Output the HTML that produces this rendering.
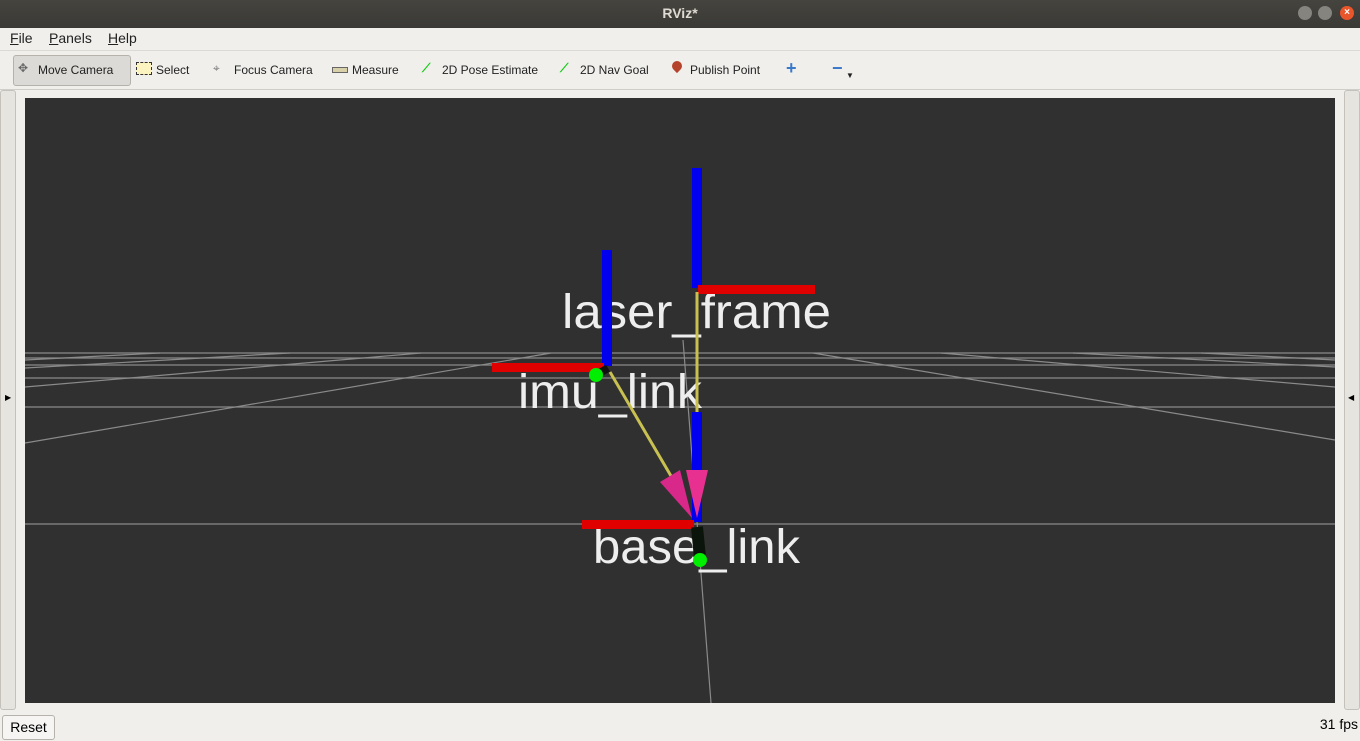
<!DOCTYPE html>
<html><head><meta charset="utf-8"><style>
body{margin:0;width:1360px;height:741px;overflow:hidden;background:#f0efec;font-family:"Liberation Sans",sans-serif;position:relative}
.t{position:absolute;left:0;top:0;width:1360px;height:28px;background:linear-gradient(#45443f,#3a3935);color:#dfdbd2;font-weight:bold;font-size:14px;text-align:center;line-height:27px}
.menu{position:absolute;top:28px;left:0;width:1360px;height:22px;font-size:14px;color:#222}
.menu span{position:absolute;top:2px}
.tb{position:absolute;top:50px;left:0;width:1360px;height:38px;border-top:1px solid #dcdad5;border-bottom:1px solid #d0cec8;font-size:12px;color:#222}
.tb span{position:absolute;top:12px}
.btn{position:absolute;left:13px;top:4px;width:116px;height:29px;background:#dcdad6;border:1px solid #b5b2ab;border-radius:3px}
.side{position:absolute;top:90px;width:14px;height:618px;background:#e6e4df;border:1px solid #c4c1bb;border-radius:3px}
</style></head><body>
<div class="t">RViz*
<div style="position:absolute;right:48px;top:6px;width:14px;height:14px;border-radius:7px;background:#85847f"></div>
<div style="position:absolute;right:28px;top:6px;width:14px;height:14px;border-radius:7px;background:#85847f"></div>
<div style="position:absolute;right:6px;top:6px;width:14px;height:14px;border-radius:7px;background:#e9562b;color:#fff;font-size:10px;line-height:14px">×</div>
</div>
<div class="menu"><span style="left:10px"><u>F</u>ile</span><span style="left:49px"><u>P</u>anels</span><span style="left:108px"><u>H</u>elp</span></div>
<div class="tb"><div class="btn"></div>
<span style="left:18px;top:10px;color:#666">✥</span><span style="left:38px">Move Camera</span>
<span style="left:136px;top:11px;width:14px;height:11px;background:#fbf3c0;border:1px dashed #333"></span><span style="left:156px">Select</span>
<span style="left:213px;top:10px;color:#777">⌖</span><span style="left:234px">Focus Camera</span>
<span style="left:332px;top:16px;width:14px;height:4px;background:#d8d0a8;border:1px solid #666"></span><span style="left:352px">Measure</span>
<span style="left:422px;top:10px;color:#1c1;font-weight:bold">⟋</span><span style="left:442px">2D Pose Estimate</span>
<span style="left:560px;top:10px;color:#1c1;font-weight:bold">⟋</span><span style="left:580px">2D Nav Goal</span>
<span style="left:672px;top:10px;width:10px;height:10px;border-radius:5px 5px 5px 0;transform:rotate(-45deg);background:#b5432c"></span><span style="left:690px">Publish Point</span>
<span style="left:786px;top:7px;color:#3a79c9;font-size:18px;font-weight:bold">+</span>
<span style="left:832px;top:7px;color:#3a79c9;font-size:18px;font-weight:bold">−</span><span style="left:846px;top:20px;font-size:8px">▼</span>
</div>
<div class="side" style="left:0"><div style="position:absolute;top:302px;left:4px;font-size:8px">▶</div></div>
<div class="side" style="left:1344px"><div style="position:absolute;top:302px;left:3px;font-size:8px">◀</div></div>
<svg style="position:absolute;left:25px;top:98px" width="1310" height="605" viewBox="25 98 1310 605">
<rect x="25" y="98" width="1310" height="605" fill="#303030"/>
<g stroke="#8a8a8a" stroke-width="1.2" fill="none">
<line x1="25" y1="353" x2="1335" y2="353"/><line x1="25" y1="358" x2="1335" y2="358"/>
<line x1="25" y1="365" x2="1335" y2="365"/><line x1="25" y1="378" x2="1335" y2="378"/>
<line x1="25" y1="407" x2="1335" y2="407"/><line x1="25" y1="524" x2="1335" y2="524"/>
<line x1="551" y1="353" x2="25" y2="443"/><line x1="421" y1="353" x2="25" y2="387"/>
<line x1="290" y1="353" x2="25" y2="368"/><line x1="160" y1="353" x2="25" y2="360"/>
<line x1="813" y1="353" x2="1335" y2="440"/><line x1="941" y1="353" x2="1335" y2="387"/>
<line x1="1073" y1="353" x2="1335" y2="367"/><line x1="1201" y1="353" x2="1335" y2="360"/>
<line x1="683" y1="340" x2="711" y2="703"/>
</g>
<g font-family="Liberation Sans,sans-serif" font-size="48" fill="#eeeeee">
<text x="562" y="328" textLength="269" lengthAdjust="spacingAndGlyphs">laser_frame</text>
<text x="518" y="408" textLength="184" lengthAdjust="spacingAndGlyphs">imu_link</text>
<text x="593" y="563" textLength="207" lengthAdjust="spacingAndGlyphs">base_link</text>
</g>
<rect x="602" y="250" width="10" height="116" fill="#0000ee"/>
<rect x="692" y="168" width="10" height="120" fill="#0000ee"/>
<rect x="692" y="412" width="10" height="110" fill="#0000ee"/>
<rect x="492" y="363" width="112" height="9" fill="#e00000"/>
<rect x="698" y="285" width="117" height="9" fill="#e00000"/>
<rect x="582" y="520" width="112" height="9" fill="#e00000"/>
<line x1="697" y1="292" x2="697" y2="412" stroke="#c8c050" stroke-width="3"/>
<line x1="610" y1="372" x2="671" y2="476" stroke="#c8c050" stroke-width="3"/>
<polygon points="660,482 680,470 692,518" fill="#d8288a"/>
<polygon points="686,470 708,470 697,518" fill="#e83090"/>
<line x1="608" y1="368" x2="598" y2="374" stroke="#111" stroke-width="8"/>
<line x1="697" y1="527" x2="700" y2="558" stroke="#0a140a" stroke-width="12"/>
<circle cx="596" cy="375" r="7" fill="#00ee00"/>
<circle cx="700" cy="560" r="7" fill="#00ee00"/>
</svg>
<div style="position:absolute;left:2px;top:715px;width:51px;height:23px;border:1px solid #b5b2ab;border-radius:3px;background:#f6f5f3;font-size:14px;text-align:center;line-height:23px">Reset</div>
<div style="position:absolute;right:2px;top:716px;font-size:14px">31 fps</div>
</body></html>
